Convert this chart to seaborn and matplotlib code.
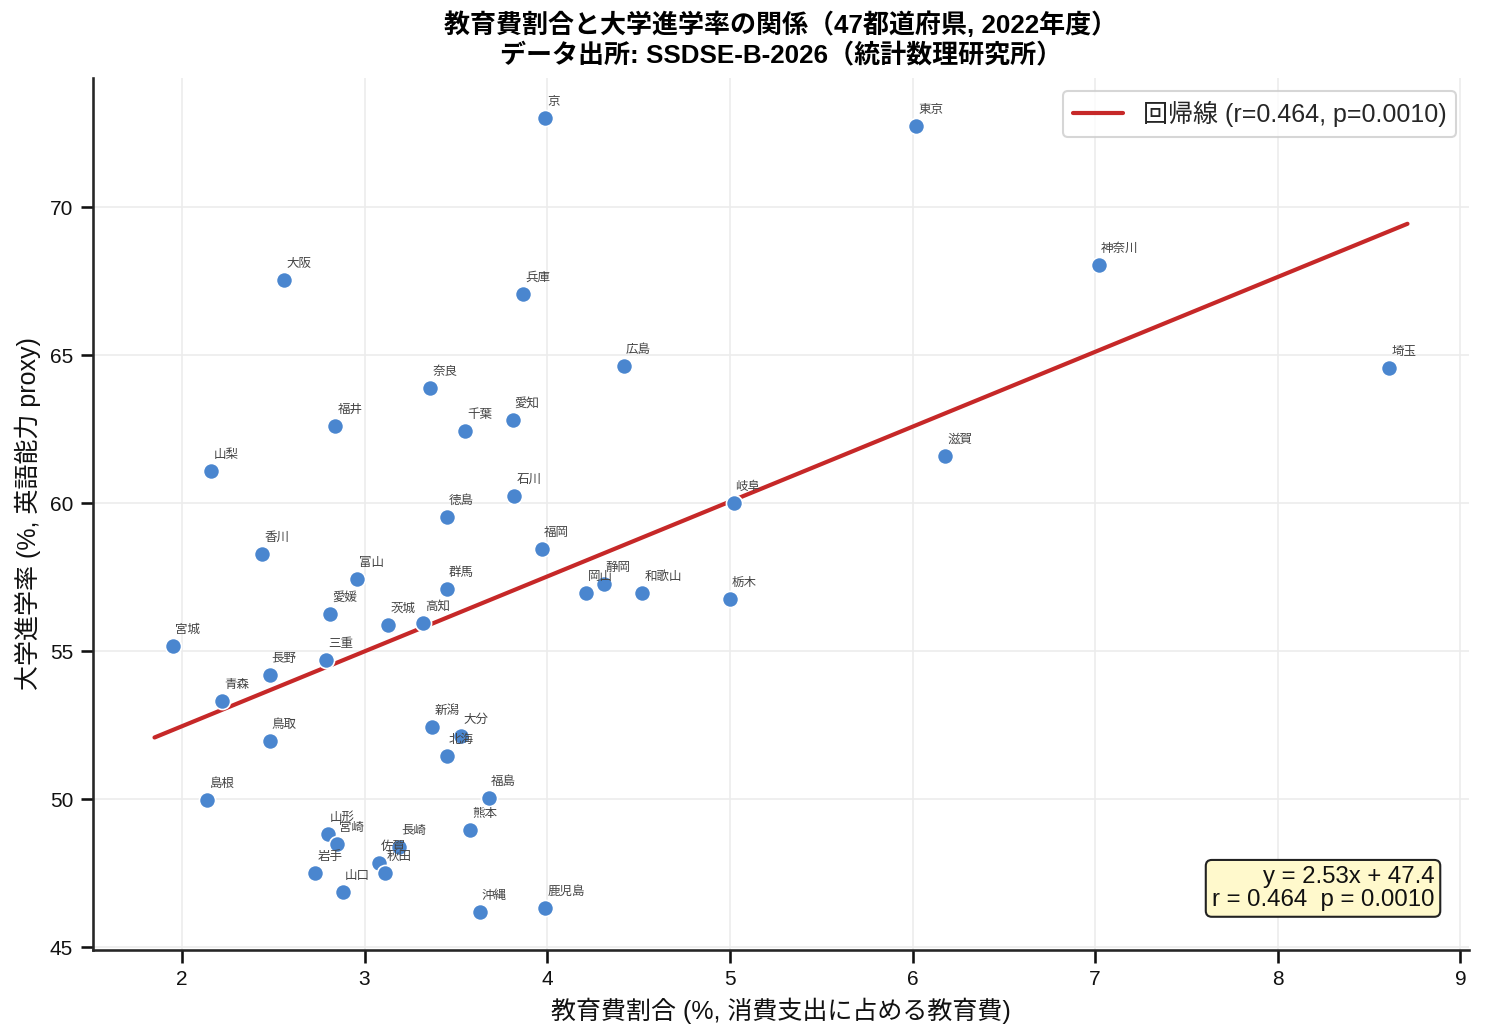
import numpy as np
import pandas as pd
import seaborn as sns
import matplotlib
matplotlib.use("Agg")
import matplotlib.pyplot as plt

# 都道府県ごとの値
pref = ["京", "東京", "神奈川", "埼玉", "大阪", "兵庫", "広島", "奈良", "福井", "千葉",
        "愛知", "山梨", "滋賀", "石川", "岐阜", "徳島", "香川", "福岡", "富山", "群馬",
        "岡山", "静岡", "和歌山", "栃木", "愛媛", "茨城", "高知", "宮城", "三重", "長野",
        "青森", "鳥取", "新潟", "大分", "北海", "島根", "福島", "熊本", "山形", "宮崎",
        "長崎", "佐賀", "秋田", "岩手", "山口", "沖縄", "鹿児島"]
edu_share = [3.99, 6.02, 7.02, 8.61, 2.56, 3.87, 4.42, 3.36, 2.84, 3.55,
             3.81, 2.16, 6.18, 3.82, 5.02, 3.45, 2.44, 3.97, 2.96, 3.45,
             4.21, 4.31, 4.52, 5.00, 2.81, 3.13, 3.32, 1.95, 2.79, 2.48,
             2.22, 2.48, 3.37, 3.53, 3.45, 2.14, 3.68, 3.58, 2.80, 2.85,
             3.19, 3.08, 3.11, 2.73, 2.88, 3.63, 3.99]
univ_rate = [73.0, 72.74, 68.04, 64.56, 67.53, 67.06, 64.63, 63.89, 62.60, 62.43,
             62.80, 61.08, 61.59, 60.24, 60.0, 59.53, 58.28, 58.45, 57.43, 57.09,
             56.96, 57.26, 56.96, 56.76, 56.25, 55.88, 55.95, 55.17, 54.70, 54.19,
             53.31, 51.96, 52.43, 52.13, 51.45, 49.97, 50.03, 48.95, 48.82, 48.48,
             48.38, 47.84, 47.50, 47.50, 46.86, 46.18, 46.32]

# 回帰結果 (図中の値)
slope = 2.53
intercept = 47.4
r_val = 0.464
p_val = 0.0010

df = pd.DataFrame({"pref": pref, "edu": edu_share, "univ": univ_rate})

sns.set_theme(style="ticks")
plt.rcParams['font.family'] = ['Liberation Sans', 'Noto Sans CJK JP', 'DejaVu Sans']

fig, ax = plt.subplots(figsize=(9.9, 6.9), dpi=150)
fig.subplots_adjust(left=0.0626, right=0.989, top=0.9246, bottom=0.0821)

sns.scatterplot(data=df, x="edu", y="univ", ax=ax, s=60, color="#4a86cf",
                edgecolor="white", linewidth=0.8, zorder=3)

for _, row in df.iterrows():
    ax.annotate(row["pref"], (row["edu"], row["univ"]), xytext=(1, 5),
                textcoords="offset points", fontsize=6, color="#444444",
                ha="left", va="bottom")

xs = np.linspace(df["edu"].min() - 0.1, df["edu"].max() + 0.1, 100)
ax.plot(xs, slope * xs + intercept, color="#c62828", lw=2, zorder=2,
        label=f"回帰線 (r={r_val:.3f}, p={p_val:.4f})")

ax.text(0.975, 0.045, f"y = {slope:.2f}x + {intercept:.1f}\nr = {r_val:.3f}  p = {p_val:.4f}",
        transform=ax.transAxes, ha="right", va="bottom", fontsize=11.5,
        multialignment="right", linespacing=1.05, color="#111111",
        bbox=dict(boxstyle="round,pad=0.25", facecolor="#fff9cc", edgecolor="#222222"))

ax.set_xlim(1.513, 9.045)
ax.set_ylim(44.9, 74.36)
ax.set_xticks(range(2, 10))
ax.set_yticks([45, 50, 55, 60, 65, 70])
ax.grid(True, color="#ececec", lw=0.8)
ax.tick_params(labelsize=10, colors="#111111")
sns.despine(ax=ax)

ax.set_xlabel("教育費割合 (%, 消費支出に占める教育費)", fontsize=12, color="#111111")
ax.set_ylabel("大学進学率 (%, 英語能力 proxy)", fontsize=12, color="#111111")
ax.set_title("教育費割合と大学進学率の関係（47都道府県, 2022年度）\nデータ出所: SSDSE-B-2026（統計数理研究所）",
             fontsize=12.5, fontweight="bold", linespacing=1.25, color="#000000", pad=7)
ax.legend(loc="upper right", fontsize=12, frameon=True)

plt.savefig("out.png", dpi=150)
